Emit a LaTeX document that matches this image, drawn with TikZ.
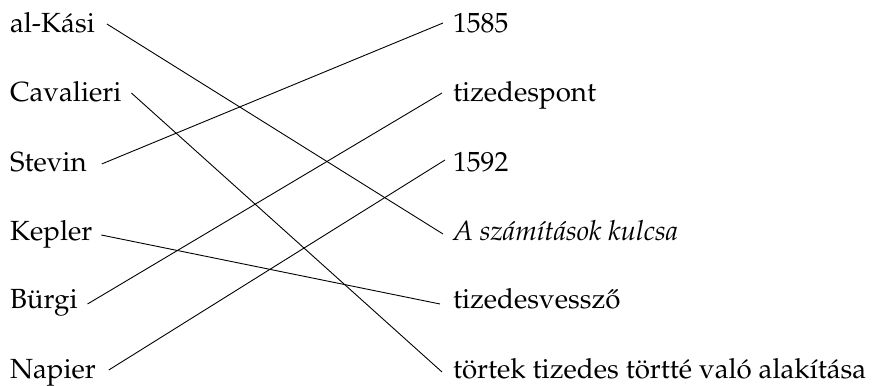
\documentclass[tikz,border=0pt]{standalone}
\usepackage[T1]{fontenc}
\usepackage{mathpazo}
\begin{document}
\begin{tikzpicture}[x=1pt,y=1pt,
  lbl/.style={inner sep=0pt,outer sep=0pt,font=\fontsize{27.7}{33}\selectfont},
  link/.style={line width=0.9pt,black}]
\useasboundingbox (0,0) rectangle (874,385);
% names on the left
\node[lbl,anchor=base west] (kasi) at (10,352) {al-K\'asi};
\node[lbl,anchor=base west] (cav)  at (10,283) {Cavalieri};
\node[lbl,anchor=base west] (stev) at (10,213) {Stevin};
\node[lbl,anchor=base west] (kep)  at (10,144) {Kepler};
\node[lbl,anchor=base west] (burg) at (10,76)  {B\"urgi};
\node[lbl,anchor=base west] (nap)  at (10,7)   {Napier};
% items on the right
\node[lbl,anchor=base west] (y85)  at (453,352) {1585};
\node[lbl,anchor=base west] (pont) at (453,283) {tizedespont};
\node[lbl,anchor=base west] (y92)  at (453,213) {1592};
\node[lbl,anchor=base west] (book) at (453,144) {\itshape A sz\'am\'{\i}t\'asok kulcsa};
\node[lbl,anchor=base west] (vess) at (453,76)  {tizedesvessz\H{o}};
\node[lbl,anchor=base west] (tort) at (453,7)   {t\"ortek tizedes t\"ortt\'e val\'o alak\'{\i}t\'asa};
% connectors
\draw[link] ([xshift=12pt,yshift=9pt]kasi.base east) -- ([xshift=-10pt,yshift=7pt]book.base west);
\draw[link] ([xshift=10pt,yshift=9pt]cav.base east)  -- ([xshift=-11pt,yshift=6pt]tort.base west);
\draw[link] ([xshift=15pt,yshift=8pt]stev.base east) -- ([xshift=-10pt,yshift=10pt]y85.base west);
\draw[link] ([xshift=9pt,yshift=6pt]kep.base east)   -- ([xshift=-13pt,yshift=5pt]vess.base west);
\draw[link] ([xshift=10pt,yshift=5pt]burg.base east) -- ([xshift=-11pt,yshift=9pt]pont.base west);
\draw[link] ([xshift=13pt,yshift=8pt]nap.base east)  -- ([xshift=-8pt,yshift=12pt]y92.base west);
\end{tikzpicture}
\end{document}
